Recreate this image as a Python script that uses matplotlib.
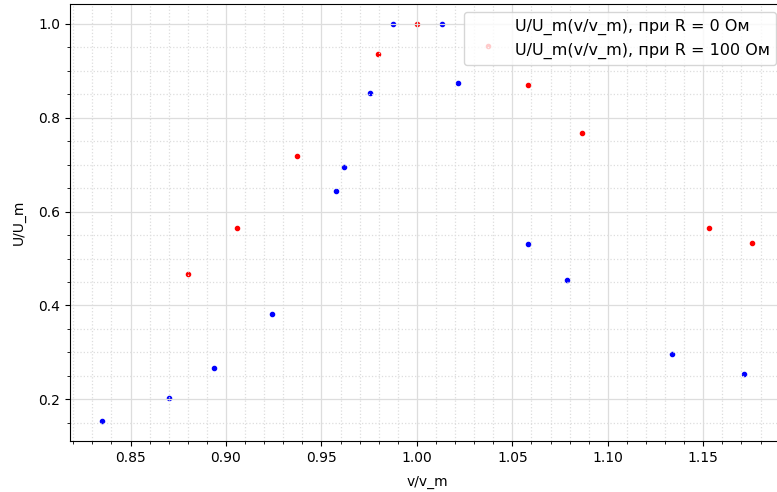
import numpy as np
import matplotlib
matplotlib.use("Agg")
import matplotlib.pyplot as plt
from matplotlib.lines import Line2D
from matplotlib.ticker import AutoMinorLocator

# R = 0 Ohm
x_r0 = [0.8353, 0.8699, 0.8939, 0.9240, 0.9578, 0.9619, 0.9753, 0.9874,
        1.0129, 1.0217, 1.0584, 1.0788, 1.1335, 1.1716]
y_r0 = [0.1535, 0.2027, 0.2668, 0.3822, 0.6437, 0.6958, 0.8525, 1.0,
        1.0, 0.8739, 0.5304, 0.4543, 0.2961, 0.2539]

# R = 100 Ohm
x_r100 = [0.8801, 0.9059, 0.9372, 0.9795, 1.0, 1.0375, 1.0584, 1.0867,
          1.1529, 1.1753]
y_r100 = [0.4662, 0.5654, 0.7178, 0.9359, 1.0, 0.953, 0.869, 0.7676,
          0.5654, 0.5325]

label_r0 = "U/U_m(v/v_m), при R = 0 Ом"
label_r100 = "U/U_m(v/v_m), при R = 100 Ом"

fig = plt.figure(figsize=(7.77, 4.92), dpi=100)
ax = fig.add_axes([70 / 777, 51 / 492, (784 - 70) / 777, (441 - 4) / 492])

ax.scatter(x_r0, y_r0, marker='.', color='b')
ax.scatter(x_r100, y_r100, marker='.', color='r')

ax.xaxis.set_minor_locator(AutoMinorLocator())
ax.yaxis.set_minor_locator(AutoMinorLocator())
ax.grid(which='major', color='#dddddd', linewidth=0.9)
ax.grid(which='minor', color='#dddddd', linestyle=':', linewidth=0.9)

ax.set_xlabel("v/v_m", labelpad=7.5)
ax.set_ylabel("U/U_m", labelpad=9)

# legend entries show no markers in the original
handles = [Line2D([], [], linestyle='none', marker=''),
           Line2D([], [], linestyle='none', marker='')]
ax.legend(handles, [label_r0, label_r100], loc='upper right', fontsize=11.5)

fig.savefig("out.png", dpi=100)
